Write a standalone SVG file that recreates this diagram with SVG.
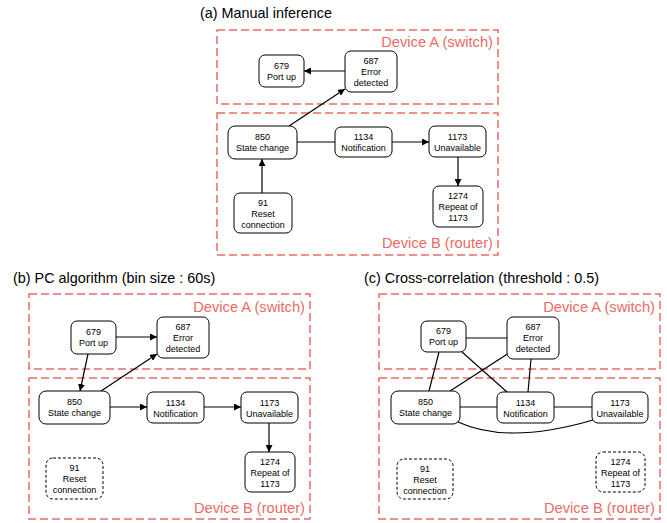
<svg xmlns="http://www.w3.org/2000/svg" width="667" height="523" viewBox="0 0 667 523">
<defs>
<marker id="arr" viewBox="0 0 10 10" refX="10" refY="5" markerWidth="7" markerHeight="7" markerUnits="userSpaceOnUse" orient="auto">
<path d="M0,0 L10,5 L0,10 z" fill="#000"/>
</marker>
<style>
.title{font-family:"Liberation Sans",Arial,sans-serif;font-size:14.4px;fill:#000}
.dev{fill:none;stroke:#ea6b66;stroke-width:1.5;stroke-dasharray:8 4}
.devt{font-family:"Liberation Sans",Arial,sans-serif;font-size:14.7px;fill:#ea6b66;text-anchor:end}
.n{fill:#fff;stroke:#000;stroke-width:1}
.nd{fill:#fff;stroke:#000;stroke-width:1;stroke-dasharray:3 2}
.t{font-family:"Liberation Sans",Arial,sans-serif;font-size:9px;fill:#000;text-anchor:middle}
.e{stroke:#000;stroke-width:1.2;fill:none}
.a{marker-end:url(#arr)}
</style>
</defs>
<rect width="667" height="523" fill="#fff"/>

<!-- Panel (a) -->
<g id="panel-a">
<text class="title" x="200" y="18">(a) Manual inference</text>
<rect class="dev" x="217" y="30" width="281" height="74"/>
<text class="devt" x="493" y="47">Device A (switch)</text>
<rect class="dev" x="217" y="113" width="281" height="142"/>
<text class="devt" x="493" y="248">Device B (router)</text>
</g>
<g id="a-edges">
<line class="e a" x1="345" y1="71" x2="304" y2="71"/>
<line class="e a" x1="289" y1="126" x2="345" y2="89"/>
<line class="e a" x1="262" y1="193" x2="262" y2="159"/>
<line class="e" x1="297" y1="142" x2="335" y2="142"/>
<line class="e a" x1="392" y1="142" x2="429" y2="142"/>
<line class="e a" x1="458" y1="157" x2="458" y2="186"/>
</g>
<g id="a-679"><rect class="n" x="259" y="55" width="45" height="32" rx="6"/><text class="t" x="281.5" y="69">679</text><text class="t" x="281.5" y="80">Port up</text></g>
<g id="a-687"><rect class="n" x="345" y="51" width="52" height="41" rx="6"/><text class="t" x="371" y="64">687</text><text class="t" x="371" y="75">Error</text><text class="t" x="371" y="86">detected</text></g>
<g id="a-850"><rect class="n" x="228" y="126" width="69" height="33" rx="7"/><text class="t" x="262.5" y="140">850</text><text class="t" x="262.5" y="151">State change</text></g>
<g id="a-1134"><rect class="n" x="335" y="127" width="57" height="30" rx="6"/><text class="t" x="363.5" y="140">1134</text><text class="t" x="363.5" y="151">Notification</text></g>
<g id="a-1173"><rect class="n" x="429" y="126" width="57" height="31" rx="6"/><text class="t" x="457.5" y="140">1173</text><text class="t" x="457.5" y="151">Unavailable</text></g>
<g id="a-91"><rect class="n" x="234" y="193" width="58" height="40" rx="6"/><text class="t" x="263" y="206">91</text><text class="t" x="263" y="217">Reset</text><text class="t" x="263" y="228">connection</text></g>
<g id="a-1274"><rect class="n" x="433" y="186" width="50" height="41" rx="6"/><text class="t" x="458" y="199">1274</text><text class="t" x="458" y="210">Repeat of</text><text class="t" x="458" y="221">1173</text></g>

<!-- Panel (b) -->
<g id="panel-b">
<text class="title" x="13" y="283">(b) PC algorithm (bin size : 60s)</text>
<rect class="dev" x="29" y="294" width="281" height="75"/>
<text class="devt" x="305" y="312">Device A (switch)</text>
<rect class="dev" x="29" y="378" width="281" height="141"/>
<text class="devt" x="305" y="513">Device B (router)</text>
</g>
<g id="b-edges">
<line class="e a" x1="116" y1="337" x2="157" y2="337"/>
<line class="e a" x1="88" y1="354" x2="80" y2="391"/>
<line class="e a" x1="101" y1="391" x2="157" y2="354"/>
<line class="e a" x1="110" y1="407" x2="147" y2="407"/>
<line class="e a" x1="204" y1="407" x2="241" y2="407"/>
<line class="e a" x1="269" y1="423" x2="269" y2="452"/>
</g>
<g id="b-679"><rect class="n" x="71" y="321" width="45" height="33" rx="6"/><text class="t" x="93.5" y="335">679</text><text class="t" x="93.5" y="346">Port up</text></g>
<g id="b-687"><rect class="n" x="157" y="317" width="52" height="41" rx="6"/><text class="t" x="183" y="330">687</text><text class="t" x="183" y="341">Error</text><text class="t" x="183" y="352">detected</text></g>
<g id="b-850"><rect class="n" x="39" y="391" width="71" height="33" rx="7"/><text class="t" x="74.5" y="405">850</text><text class="t" x="74.5" y="416">State change</text></g>
<g id="b-1134"><rect class="n" x="147" y="392" width="57" height="31" rx="6"/><text class="t" x="175.5" y="406">1134</text><text class="t" x="175.5" y="417">Notification</text></g>
<g id="b-1173"><rect class="n" x="241" y="392" width="57" height="31" rx="6"/><text class="t" x="269.5" y="406">1173</text><text class="t" x="269.5" y="417">Unavailable</text></g>
<g id="b-91"><rect class="nd" x="46" y="458" width="57" height="41" rx="7"/><text class="t" x="74.5" y="471">91</text><text class="t" x="74.5" y="482">Reset</text><text class="t" x="74.5" y="493">connection</text></g>
<g id="b-1274"><rect class="n" x="245" y="452" width="50" height="40" rx="6"/><text class="t" x="270" y="465">1274</text><text class="t" x="270" y="476">Repeat of</text><text class="t" x="270" y="487">1173</text></g>

<!-- Panel (c) -->
<g id="panel-c">
<text class="title" x="364" y="283">(c) Cross-correlation (threshold : 0.5)</text>
<rect class="dev" x="379" y="294" width="281" height="75"/>
<text class="devt" x="655" y="312">Device A (switch)</text>
<rect class="dev" x="379" y="378" width="281" height="141"/>
<text class="devt" x="655" y="513">Device B (router)</text>
</g>
<g id="c-edges">
<line class="e" x1="466" y1="338" x2="507" y2="338"/>
<line class="e" x1="439" y1="352" x2="429" y2="391"/>
<line class="e" x1="462" y1="352" x2="507" y2="392"/>
<line class="e" x1="509" y1="353" x2="450" y2="391"/>
<line class="e" x1="531" y1="359" x2="528" y2="392"/>
<line class="e" x1="460" y1="407" x2="497" y2="407"/>
<line class="e" x1="554" y1="407" x2="592" y2="407"/>
<path class="e" d="M458,422 Q508,445 593,420"/>
</g>
<g id="c-679"><rect class="n" x="421" y="321" width="45" height="31" rx="6"/><text class="t" x="443.5" y="334">679</text><text class="t" x="443.5" y="345">Port up</text></g>
<g id="c-687"><rect class="n" x="507" y="317" width="52" height="42" rx="6"/><text class="t" x="533" y="330">687</text><text class="t" x="533" y="341">Error</text><text class="t" x="533" y="352">detected</text></g>
<g id="c-850"><rect class="n" x="391" y="391" width="69" height="33" rx="7"/><text class="t" x="425.5" y="405">850</text><text class="t" x="425.5" y="416">State change</text></g>
<g id="c-1134"><rect class="n" x="497" y="392" width="57" height="31" rx="6"/><text class="t" x="525.5" y="406">1134</text><text class="t" x="525.5" y="417">Notification</text></g>
<g id="c-1173"><rect class="n" x="592" y="392" width="56" height="31" rx="6"/><text class="t" x="620" y="406">1173</text><text class="t" x="620" y="417">Unavailable</text></g>
<g id="c-91"><rect class="nd" x="397" y="459" width="56" height="40" rx="7"/><text class="t" x="425" y="472">91</text><text class="t" x="425" y="483">Reset</text><text class="t" x="425" y="494">connection</text></g>
<g id="c-1274"><rect class="nd" x="596" y="452" width="49" height="40" rx="7"/><text class="t" x="620.5" y="465">1274</text><text class="t" x="620.5" y="476">Repeat of</text><text class="t" x="620.5" y="487">1173</text></g>
</svg>
